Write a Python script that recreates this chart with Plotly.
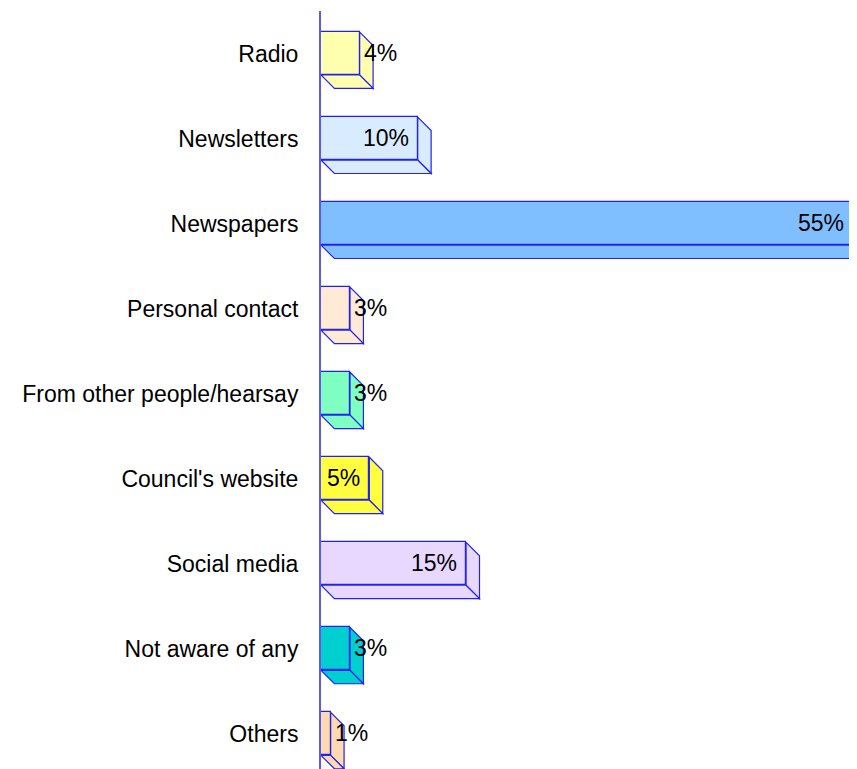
import plotly.graph_objects as go

categories = ["Radio", "Newsletters", "Newspapers", "Personal contact",
              "From other people/hearsay", "Council's website", "Social media",
              "Not aware of any", "Others"]
values = [4, 10, 55, 3, 3, 5, 15, 3, 1]
colors = ["#FFFFB0", "#D8EBFF", "#80BFFF", "#FFEAD6", "#80FFC2",
          "#FFFF40", "#E8D8FF", "#00CFCF", "#FFD9B0"]

EDGE = "#2222F0"
BW = 0.505          # bar thickness in category units
DX = 1.385          # depth in % units
DY = 0.158          # depth in category units
FONT = "Liberation Sans, Arial, Helvetica, sans-serif"
FS = 23

ys = list(range(len(categories)))

fig = go.Figure()
fig.add_trace(go.Bar(
    x=values, y=ys, orientation="h", width=BW,
    marker=dict(color=colors, line=dict(color=EDGE, width=1.2)),
    hoverinfo="skip", showlegend=False,
))

shapes = []
annotations = []
for i, (v, c) in enumerate(zip(values, colors)):
    top = i - BW / 2
    bot = i + BW / 2
    # right side face
    shapes.append(dict(
        type="path", xref="x", yref="y", layer="below",
        path=f"M {v},{top} L {v+DX},{top+DY} L {v+DX},{bot+DY} L {v},{bot} Z",
        fillcolor=c, line=dict(color=EDGE, width=1.2),
    ))
    # bottom face
    shapes.append(dict(
        type="path", xref="x", yref="y", layer="below",
        path=f"M 0,{bot} L {v},{bot} L {v+DX},{bot+DY} L {DX},{bot+DY} Z",
        fillcolor=c, line=dict(color=EDGE, width=1.2),
    ))
    inside = v >= 5
    annotations.append(dict(
        x=v, y=i, xref="x", yref="y", text=f"{v}%", showarrow=False,
        xanchor="right" if inside else "left",
        xshift=-7 if inside else 2, yshift=1,
        font=dict(family=FONT, size=FS, color="black"),
    ))

# page body has an 8px default margin; compensate so the picture fills 857x769
fig.update_layout(
    width=849, height=761,
    margin=dict(l=313, r=0, t=3, b=0),
    paper_bgcolor="white", plot_bgcolor="white",
    shapes=shapes, annotations=annotations,
    font=dict(family=FONT, size=FS, color="black"),
    xaxis=dict(range=[0, 55.41], showgrid=False, zeroline=False,
               showticklabels=False, showline=False, fixedrange=True),
    yaxis=dict(range=[8.413, -0.5], tickmode="array", tickvals=ys,
               ticktext=categories, showgrid=False, zeroline=False,
               showline=True, linecolor="#5A5AF0", linewidth=2,
               ticks="", ticklabelstandoff=16,
               tickfont=dict(family=FONT, size=FS, color="black")),
    bargap=0,
)

fig.write_html("out.html")
